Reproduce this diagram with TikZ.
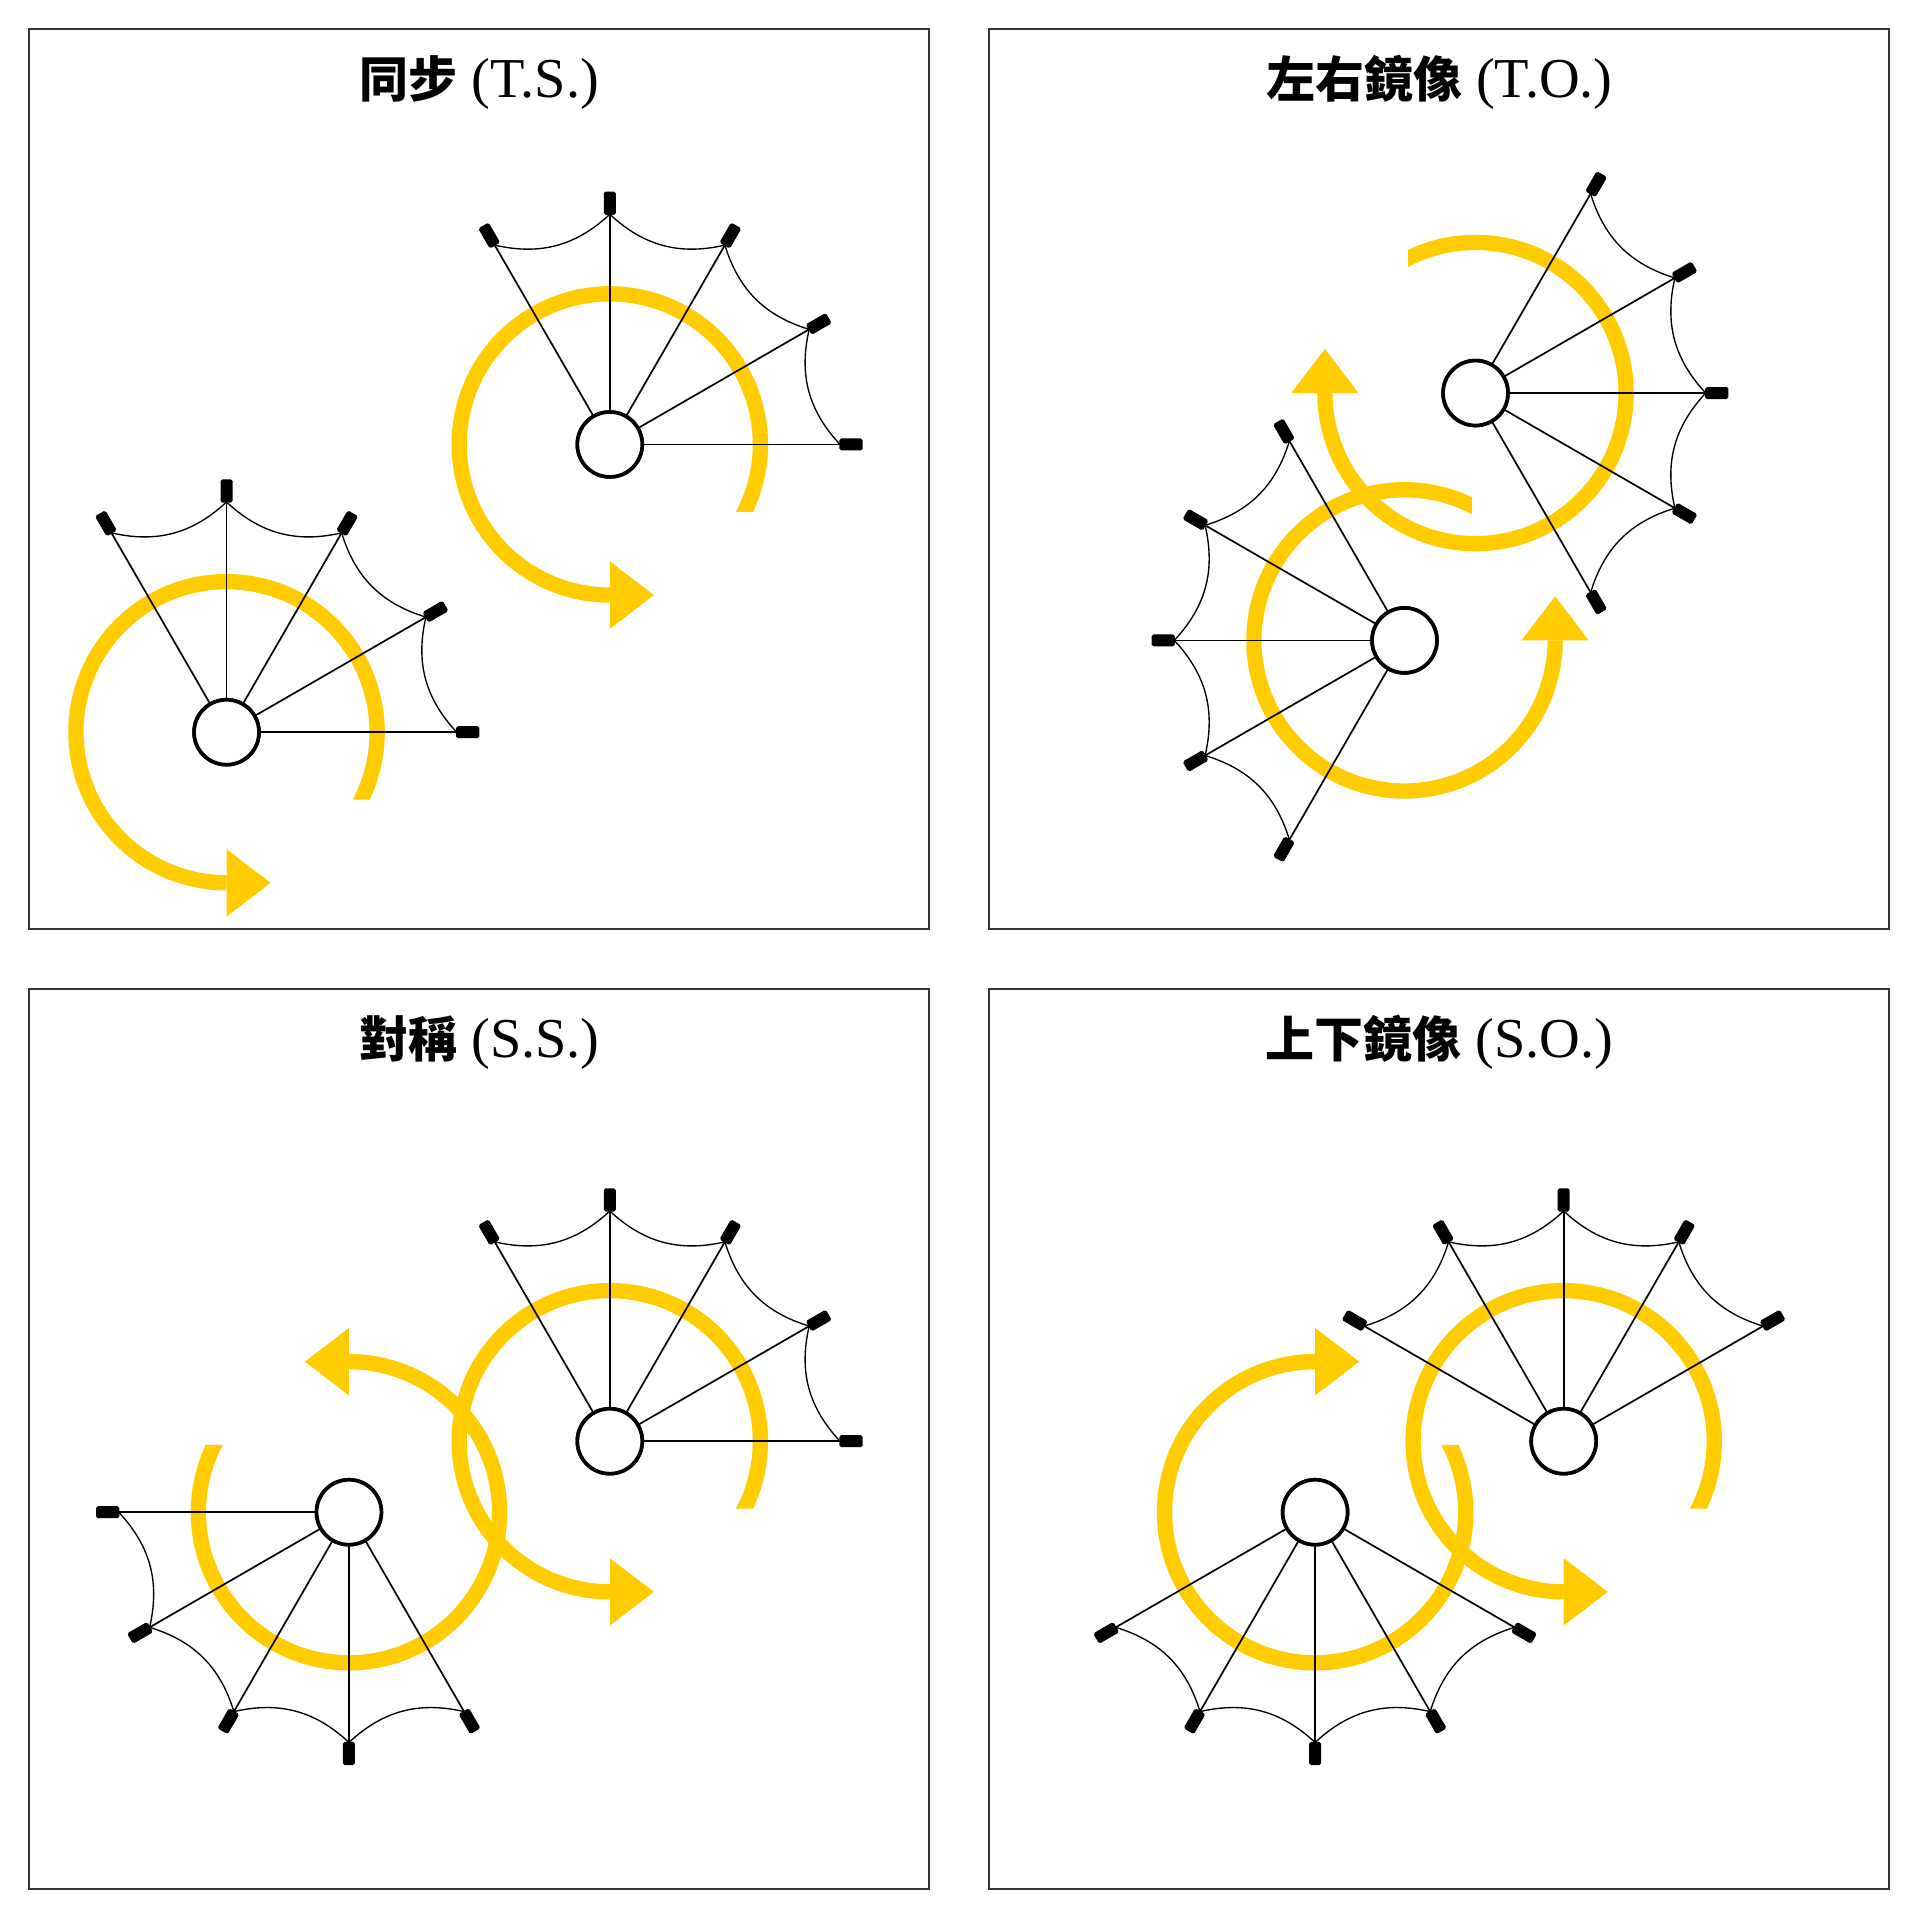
\documentclass[tikz,border=0pt]{standalone}
\usepackage{fontspec}
\setmainfont{Liberation Serif}
\newfontfamily\cjk{Noto Sans CJK TC}
\definecolor{yel}{HTML}{FFCC00}
\definecolor{framec}{HTML}{333333}
\tikzset{
  panel/.style={draw=framec, line width=1.6pt},
  band/.style={draw=yel, line width=12.5pt, line cap=butt},
  spoke/.style={draw=black, line width=1.4pt},
  web/.style={draw=black, line width=1.1pt},
  hubnode/.style={circle, draw=black, fill=white, line width=3pt, minimum size=53pt, inner sep=0pt, outer sep=0pt},
  titlenode/.style={anchor=base, inner sep=0pt, font=\fontsize{46}{52}\selectfont},
}
\newcommand\tcjk[1]{{\cjk\bfseries\fontsize{40}{48}\selectfont #1}}
% yellow arc with arrowhead: hub x, hub y, transform
\newcommand\yarc[3]{%
  \begin{scope}[shift={(#1,#2)}, #3]
    \begin{scope}
      \clip (-220,-55) rectangle (220,220) (-220,-220) rectangle (30,-55);
      \draw[band] (-45:123) arc[start angle=-45, end angle=270, radius=123];
    \end{scope}
    \fill[yel] (0,-150.5) -- (36,-123) -- (0,-95.5) -- cycle;
  \end{scope}}
% umbrella: name, hub x, hub y, first spoke angle
\newcommand\umb[4]{%
  \node[hubnode] (#1) at (#2,#3) {};
  \begin{scope}[shift={(#2,#3)}]
    \foreach \k in {0,...,4}{
      \pgfmathsetmacro\a{#4+30*\k}
      \coordinate (#1tip\k) at (\a:188);
      \draw[spoke] (#1.\a) -- (#1tip\k);
      \fill[rotate=\a, rounded corners=1.5pt] (187.5,-4.9) rectangle (206.5,4.9);
    }
  \end{scope}
  \foreach \k/\j in {0/1,1/2,2/3,3/4}{
    \draw[web] (#1tip\k) to[bend left=28] (#1tip\j);
  }
  \node[hubnode] at (#1) {};}
\begin{document}
\begin{tikzpicture}[x=1pt,y=1pt]
  \useasboundingbox (0,0) rectangle (1568,1568);
  \fill[white] (0,0) rectangle (1568,1568);
  % panels
  \draw[panel] (24,809) rectangle (759,1544);
  \draw[panel] (808,809) rectangle (1543,1544);
  \draw[panel] (24,25) rectangle (759,760);
  \draw[panel] (808,25) rectangle (1543,760);
  % titles
  \node[titlenode] (t1) at (391.5,1488) {\tcjk{同步} (T.S.)};
  \node[titlenode] (t2) at (1175.5,1488) {\tcjk{左右鏡像} (T.O.)};
  \node[titlenode] (t3) at (391.5,704) {\tcjk{對稱} (S.S.)};
  \node[titlenode] (t4) at (1175.5,704) {\tcjk{上下鏡像} (S.O.)};
  % yellow arcs
  \yarc{185}{970}{}
  \yarc{498}{1205}{}
  \yarc{1205}{1247}{xscale=-1, rotate=90}
  \yarc{1147}{1045}{rotate=90}
  \yarc{498}{391}{}
  \yarc{285}{333}{rotate=180}
  \yarc{1277}{391}{}
  \yarc{1074}{333}{yscale=-1}
  % umbrellas
  \umb{A}{185}{970}{0}
  \umb{B}{498}{1205}{0}
  \umb{C}{1205}{1247}{-60}
  \umb{D}{1147}{1045}{120}
  \umb{E}{498}{391}{0}
  \umb{F}{285}{333}{180}
  \umb{G}{1277}{391}{30}
  \umb{H}{1074}{333}{210}
\end{tikzpicture}
\end{document}
